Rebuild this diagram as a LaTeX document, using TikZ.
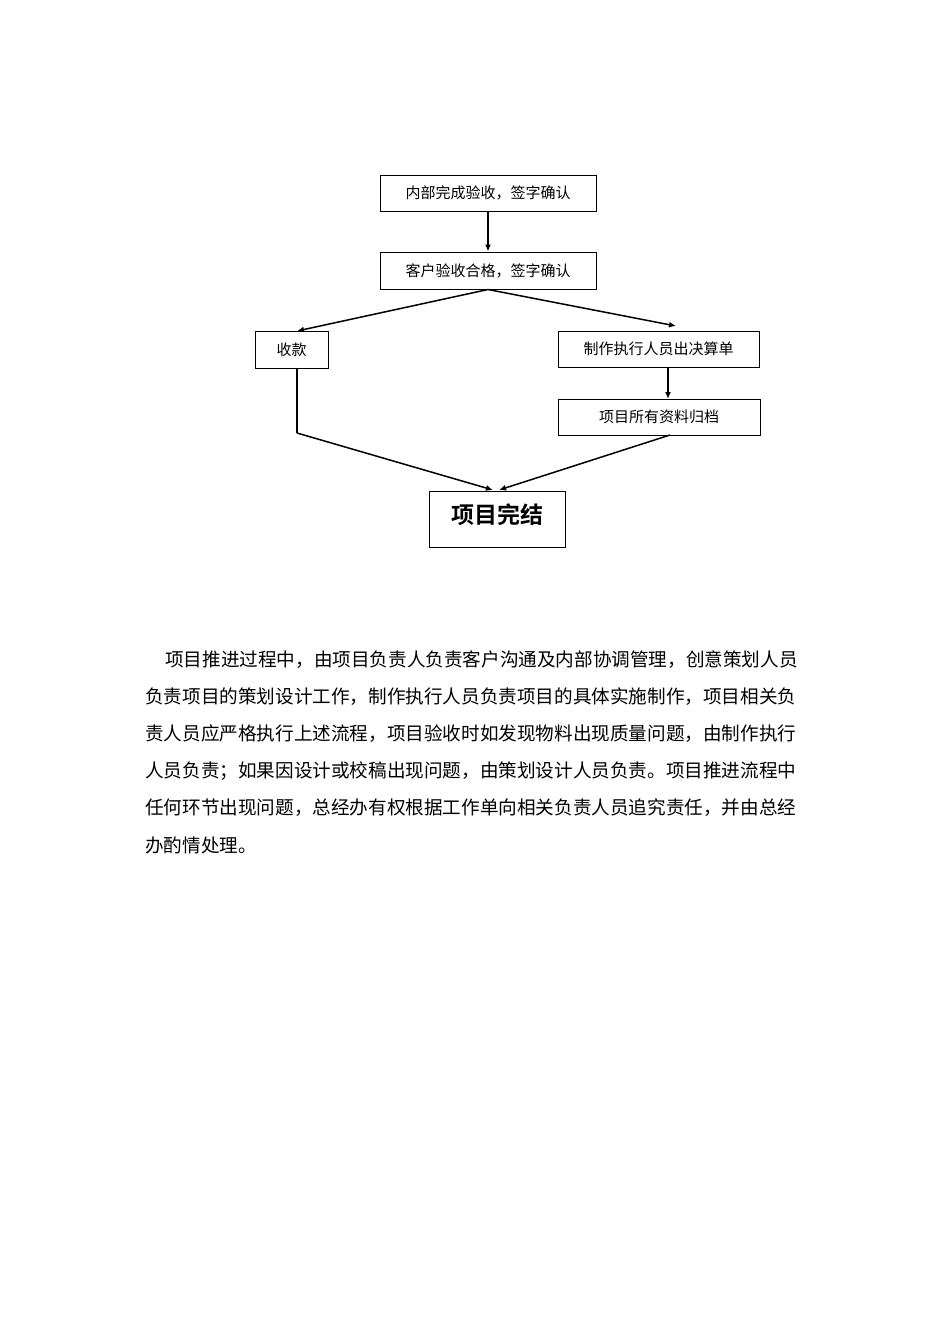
\documentclass[tikz,border=0pt]{standalone}
\usepackage{fontspec}
\newfontfamily\cjk{Noto Sans CJK SC}
\newfontfamily\cjkb{Noto Sans CJK SC Bold}
\begin{document}
\begin{tikzpicture}[x=1pt,y=-1pt,
  box/.style={draw,line width=1pt,inner sep=0pt,font=\cjk\fontsize{15}{15}\selectfont},
  arr/.style={line width=1.5pt,-{Latex[length=7pt,width=6pt]}},
  ln/.style={line width=1.5pt},
  para/.style={anchor=west,inner sep=0pt,font=\cjk\fontsize{18.6}{18.6}\selectfont}]
\usetikzlibrary{arrows.meta}
\useasboundingbox[fill=white] (0,0) rectangle (950,1344);
\node[box,minimum width=216pt,minimum height=36pt] (a) at (488,193) {内部完成验收，签字确认};
\node[box,minimum width=216pt,minimum height=37pt] (b) at (488,270.5) {客户验收合格，签字确认};
\node[box,minimum width=73pt,minimum height=37pt] (c) at (291.5,349.5) {收款};
\node[box,minimum width=201pt,minimum height=36pt] (d) at (658.5,349) {制作执行人员出决算单};
\node[box,minimum width=202pt,minimum height=36pt] (e) at (659,417) {项目所有资料归档};
\node[draw,line width=1pt,inner sep=0pt,minimum width=136pt,minimum height=56pt,font=\cjkb\fontsize{23}{23}\selectfont] (f) at (497,519) {\raisebox{10pt}{项目完结}};
\coordinate (ct) at (297,331);
\coordinate (cb) at (297,368);
\coordinate (cc) at (297,433);
\coordinate (dt) at (676,326);
\coordinate (db) at (668,367);
\coordinate (et) at (668,399);
\coordinate (eb) at (670,435);
\coordinate (f1) at (493,490);
\coordinate (f2) at (499,490);
\draw[arr] (a.south) -- (b.north);
\draw[arr] (b.south) -- (ct);
\draw[arr] (b.south) -- (dt);
\draw[arr] (db) -- (et);
\draw[ln] (cb) -- (cc);
\draw[arr] (cc) -- (f1);
\draw[arr] (eb) -- (f2);
\node[para] (p1) at (165,660) {项目推进过程中，由项目负责人负责客户沟通及内部协调管理，创意策划人员};
\node[para] (p2) at (145,697) {负责项目的策划设计工作，制作执行人员负责项目的具体实施制作，项目相关负};
\node[para] (p3) at (145,734) {责人员应严格执行上述流程，项目验收时如发现物料出现质量问题，由制作执行};
\node[para] (p4) at (145,771) {人员负责；如果因设计或校稿出现问题，由策划设计人员负责。项目推进流程中};
\node[para] (p5) at (145,808) {任何环节出现问题，总经办有权根据工作单向相关负责人员追究责任，并由总经};
\node[para] (p6) at (145,845) {办酌情处理。};
\end{tikzpicture}
\end{document}
